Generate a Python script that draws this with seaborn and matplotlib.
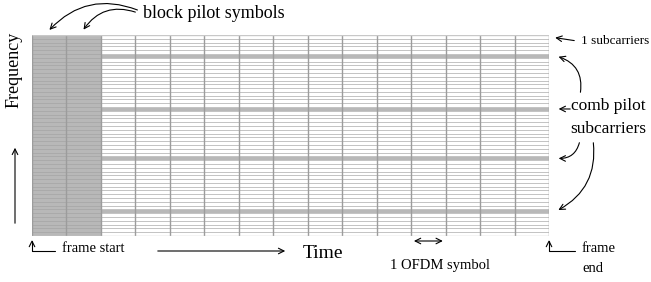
import numpy as np
import seaborn as sns
import matplotlib.pyplot as plt
from matplotlib.colors import ListedColormap

# frame layout: OFDM symbols (time) x subcarriers (frequency)
n_symbols = 15
n_subcarriers = 53
block_pilot_symbols = [0, 1]
comb_pilot_rows = [5, 19, 32, 46]   # counted from the top of the frame

grid = np.zeros((n_subcarriers, n_symbols))
grid[:, block_pilot_symbols] = 1
grid[comb_pilot_rows, :] = 1

W, H = 651, 282
def px(x, y):
    return (x / W, 1 - y / H)

plt.rcParams['font.family'] = ['Liberation Serif', 'DejaVu Serif']

fig = plt.figure(figsize=(W / 100, H / 100), dpi=100)
ax = fig.add_axes([32 / W, 46 / H, 517 / W, 201 / H])
sns.heatmap(grid, cmap=ListedColormap(['white', '#b8b8b8']), cbar=False,
            linewidths=0.6, linecolor='#c4c4c4', xticklabels=False, yticklabels=False,
            vmin=0, vmax=1, ax=ax)
# darker subcarrier lines inside the block pilot symbols
ax.hlines(range(n_subcarriers + 1), 0, len(block_pilot_symbols), colors='#a0a0a0', lw=0.5)
ax.vlines(range(n_symbols + 1), 0, n_subcarriers, colors='#9c9c9c', lw=1.0)
ax.hlines([0, n_subcarriers], 0, n_symbols, colors='#c8c8c8', lw=1.0)

arrow = dict(arrowstyle='->', color='black', lw=0.8)
F = 'figure fraction'

# block pilots
fig.text(*px(143, 13), 'block pilot symbols', fontsize=13, va='center', ha='left')
for s, start, rad in zip(block_pilot_symbols, [(140, 11), (138, 13)], [0.35, 0.4]):
    ax.annotate('', xy=(s + 0.45, -0.8), xytext=px(*start), textcoords=F,
                arrowprops=dict(arrow, connectionstyle=f'arc3,rad={rad}'), annotation_clip=False)

# frequency axis
fig.text(*px(14, 70), 'Frequency', fontsize=13, rotation=90, va='center', ha='center')
fig.add_artist(plt.Annotation('', xy=px(15, 145), xytext=px(15, 226), xycoords=F, textcoords=F,
                              arrowprops=arrow))

# one subcarrier
fig.text(*px(581, 41), '1 subcarriers', fontsize=9.5, va='center', ha='left')
ax.annotate('', xy=(n_symbols + 0.1, 0.6), xytext=px(577, 41), textcoords=F,
            arrowprops=arrow, annotation_clip=False)

# comb pilots
fig.text(*px(608, 106), 'comb pilot', fontsize=12.5, va='center', ha='center')
fig.text(*px(608, 129), 'subcarriers', fontsize=12.5, va='center', ha='center')
ax.annotate('', xy=(n_symbols + 0.2, comb_pilot_rows[0] + 0.5), xytext=px(580, 95), textcoords=F,
            arrowprops=dict(arrow, connectionstyle='arc3,rad=0.45'), annotation_clip=False)
ax.annotate('', xy=(n_symbols + 0.2, comb_pilot_rows[1] + 0.5), xytext=px(573, 109), textcoords=F,
            arrowprops=arrow, annotation_clip=False)
ax.annotate('', xy=(n_symbols + 0.2, comb_pilot_rows[2] + 0.5), xytext=px(580, 140), textcoords=F,
            arrowprops=dict(arrow, connectionstyle='arc3,rad=-0.45'), annotation_clip=False)
ax.annotate('', xy=(n_symbols + 0.2, comb_pilot_rows[3] + 0.5), xytext=px(593, 140), textcoords=F,
            arrowprops=dict(arrow, connectionstyle='arc3,rad=-0.35'), annotation_clip=False)

# frame start / end
fig.text(*px(62, 248), 'frame start', fontsize=10.5, va='center', ha='left')
ax.annotate('', xy=(0, n_subcarriers + 0.3), xytext=px(58, 251), textcoords=F,
            arrowprops=dict(arrow, connectionstyle='angle,angleA=0,angleB=90,rad=0'),
            annotation_clip=False)
fig.text(*px(582, 248), 'frame', fontsize=10.5, va='center', ha='left')
fig.text(*px(582, 268), 'end', fontsize=10.5, va='center', ha='left')
ax.annotate('', xy=(n_symbols, n_subcarriers + 0.3), xytext=px(578, 251), textcoords=F,
            arrowprops=dict(arrow, connectionstyle='angle,angleA=0,angleB=90,rad=0'),
            annotation_clip=False)

# time axis
fig.add_artist(plt.Annotation('', xy=px(288, 251), xytext=px(155, 251), xycoords=F, textcoords=F,
                              arrowprops=arrow))
fig.text(*px(303, 254), 'Time', fontsize=14, va='center', ha='left')

# one OFDM symbol
ax.annotate('', xy=(12, 1 - 241 / H), xytext=(11, 1 - 241 / H), xycoords=('data', F),
            textcoords=('data', F),
            arrowprops=dict(arrowstyle='<->', color='black', lw=0.8), annotation_clip=False)
fig.text(*px(440, 265), '1 OFDM symbol', fontsize=10.5, va='center', ha='center')

fig.savefig('out.png', dpi=100, facecolor='white')
